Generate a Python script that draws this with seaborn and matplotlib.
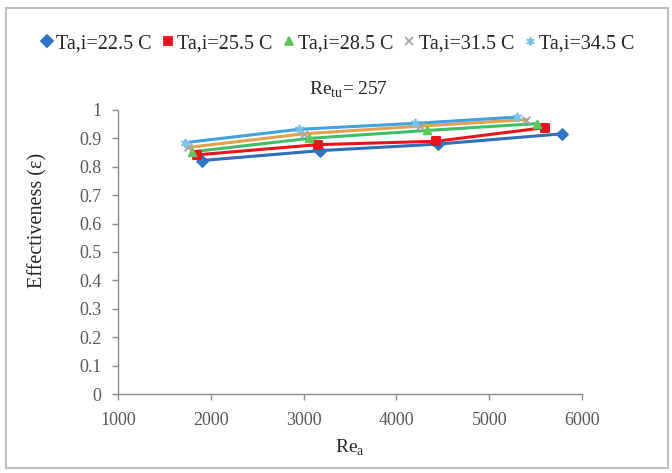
import seaborn as sns
import pandas as pd
import matplotlib.pyplot as plt
from matplotlib.lines import Line2D
from matplotlib.patches import Rectangle

sns.set_theme(style="white")
plt.rcParams['font.family'] = ['Liberation Serif', 'DejaVu Serif']
plt.rcParams['mathtext.fontset'] = 'custom'
plt.rcParams['mathtext.rm'] = 'Liberation Serif'

# values
labels = ["Ta,i=22.5 C", "Ta,i=25.5 C", "Ta,i=28.5 C", "Ta,i=31.5 C", "Ta,i=34.5 C"]
re_a_225 = [1900, 3180, 4450, 5780]
eff_225 = [0.822, 0.857, 0.880, 0.916]
re_a_255 = [1850, 3150, 4430, 5600]
eff_255 = [0.842, 0.878, 0.890, 0.938]
re_a_285 = [1800, 3060, 4330, 5510]
eff_285 = [0.853, 0.900, 0.928, 0.952]
re_a_315 = [1750, 3000, 4250, 5400]
eff_315 = [0.868, 0.916, 0.943, 0.966]
re_a_345 = [1720, 2950, 4200, 5300]
eff_345 = [0.885, 0.932, 0.953, 0.975]

xs = [re_a_225, re_a_255, re_a_285, re_a_315, re_a_345]
ys = [eff_225, eff_255, eff_285, eff_315, eff_345]
marker_colors = ["#2E75C8", "#E8141B", "#5CC85A", "#A6A6A6", "#7CC3E8"]
line_colors = ["#2F6EBA", "#E8141B", "#3DBF6A", "#E3A24A", "#3FA3E0"]
markers = ["D", "s", "^", "x", (6, 2, 0)]

fig = plt.figure(figsize=(6.72, 4.73), dpi=100)
ax = fig.add_axes([118/672, 1-394/473, 464/672, 284/473])

for i in range(5):
    df = pd.DataFrame({"Re_a": xs[i], "eff": ys[i]})
    sns.lineplot(data=df, x="Re_a", y="eff", color=line_colors[i], lw=2.2,
                 ax=ax, legend=False)
    sns.scatterplot(data=df, x="Re_a", y="eff", marker=markers[i],
                    color=marker_colors[i], s=30, linewidth=1.4,
                    edgecolor=marker_colors[i] if markers[i] not in ["x", (6, 2, 0)] else None,
                    ax=ax, legend=False, zorder=5)

ax.set_xlim(1000, 6000)
ax.set_ylim(0, 1)
ax.set_xticks(range(1000, 6001, 1000))
ax.set_yticks([i/10 for i in range(11)])
ax.set_yticklabels(["0", "0.1", "0.2", "0.3", "0.4", "0.5", "0.6", "0.7", "0.8", "0.9", "1"])
ax.set_xlabel("")
ax.set_ylabel("")
sns.despine(ax=ax)
for s in ["left", "bottom"]:
    ax.spines[s].set_color("#8C8C8C")
    ax.spines[s].set_linewidth(1)
ax.tick_params(axis="both", direction="out", length=4, width=1, color="#8C8C8C",
               labelsize=13, labelcolor="#595959", left=True, bottom=True)
ax.tick_params(axis="x", pad=9)
ax.tick_params(axis="y", pad=8)

fig.text(350/672, 1-448/473, "Re$_\\mathrm{a}$", ha="center", va="center", fontsize=14)
fig.text(38/672, 1-220/473, "Effectiveness (ε)", rotation=90, ha="center",
         va="center", fontsize=14.5)
fig.text(348/672, 1-90/473, "Re$_\\mathrm{tu}$= 257", ha="center", va="center", fontsize=14)

handles = []
for i in range(5):
    handles.append(Line2D([], [], linestyle="none", marker=markers[i],
                          color=marker_colors[i], markersize=6, markeredgewidth=1.3))
fig.legend(handles, labels, loc="center", bbox_to_anchor=(338/672, 1-44/473),
           ncol=5, frameon=False, prop={"family": "Liberation Serif", "size": 14.5},
           handlelength=0.6, handletextpad=0.15, columnspacing=0.5, borderpad=0)

fig.patches.append(Rectangle((6/672, 1-468/473), 662/672, 460/473,
                             transform=fig.transFigure, fill=False,
                             edgecolor="#BFBFBF", lw=1.5))

fig.savefig("out.png", dpi=100)
